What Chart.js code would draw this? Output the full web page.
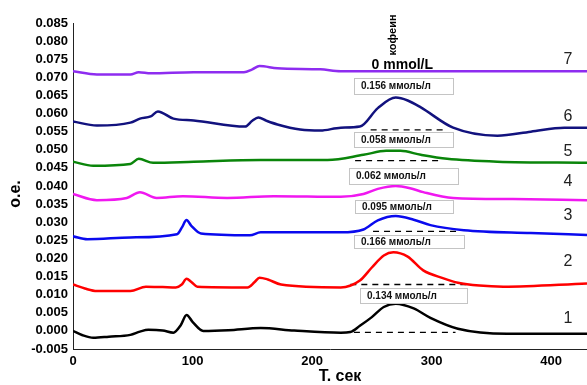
<!DOCTYPE html>
<html>
<head>
<meta charset="utf-8">
<script src="https://cdn.jsdelivr.net/npm/chart.js@4"></script>
<style>
  html, body { margin: 0; padding: 0; background: #fff; }
</style>
</head>
<body>
<canvas id="chart" width="587" height="385"></canvas>
<script>
// time, s / optical density for each trace (1 = bottom ... 7 = top)
const t1 = [0, 8, 17, 30, 48, 56, 63, 75, 84, 90, 95, 100, 109, 130, 157, 185, 224, 232, 240, 250, 260, 270, 285, 299, 322, 363, 430];
const od1 = [0, -0.0012, -0.0019, -0.0016, -0.0011, -0.0002, 0.0003, 0.0001, -0.0005, 0.0015, 0.0044, 0.0025, 0.0, 0.0002, 0.0008, 0.0001, -0.0005, -0.0003, 0.0014, 0.0038, 0.0066, 0.0075, 0.0062, 0.0036, 0.0006, -0.0008, -0.0008];

const t2 = [0, 10, 20, 48, 61, 75, 86, 91, 95, 99, 104, 146, 152, 156, 163, 174, 224, 240, 250, 260, 268, 280, 293, 310, 322, 340, 360, 430];
const od2 = [0.0128, 0.0117, 0.011, 0.011, 0.0122, 0.0121, 0.012, 0.0128, 0.0144, 0.0135, 0.0122, 0.012, 0.0135, 0.0147, 0.0142, 0.0128, 0.012, 0.0139, 0.0175, 0.0208, 0.0217, 0.0205, 0.0167, 0.0145, 0.0133, 0.0125, 0.0122, 0.0131];

const t3 = [0, 12, 48, 87, 91, 95, 99, 107, 148, 157, 224, 243, 255, 270, 285, 299, 327, 383, 430];
const od3 = [0.0261, 0.0253, 0.0258, 0.0267, 0.0285, 0.0306, 0.029, 0.0269, 0.0264, 0.0272, 0.0272, 0.028, 0.0305, 0.0317, 0.0307, 0.0292, 0.0278, 0.027, 0.0265];

const t4 = [0, 20, 45, 56, 70, 92, 129, 168, 224, 243, 255, 270, 282, 293, 318, 368, 430];
const od4 = [0.0378, 0.0361, 0.0367, 0.0383, 0.0367, 0.0372, 0.0367, 0.0372, 0.037, 0.0378, 0.0392, 0.040, 0.0394, 0.0383, 0.0367, 0.0364, 0.0361];

const t5 = [0, 17, 48, 55, 67, 101, 157, 213, 243, 262, 274, 291, 313, 355, 430];
const od5 = [0.0467, 0.0456, 0.0461, 0.0475, 0.0464, 0.0467, 0.0472, 0.0472, 0.0486, 0.0497, 0.0497, 0.0486, 0.0475, 0.0467, 0.0464];

const t6 = [0, 20, 48, 56, 65, 71, 84, 101, 144, 150, 155, 162, 171, 190, 207, 224, 240, 255, 270, 280, 291, 318, 355, 383, 411, 430];
const od6 = [0.0578, 0.0567, 0.0575, 0.0586, 0.0592, 0.0606, 0.0586, 0.0581, 0.0564, 0.058, 0.0589, 0.058, 0.057, 0.0556, 0.0553, 0.0561, 0.0564, 0.0615, 0.0644, 0.0636, 0.0617, 0.0561, 0.0539, 0.055, 0.0561, 0.0561];

const t7 = [0, 20, 48, 55, 65, 101, 143, 150, 156, 171, 207, 224, 300, 430];
const od7 = [0.0717, 0.0708, 0.0708, 0.0714, 0.0711, 0.0714, 0.0714, 0.0722, 0.0731, 0.0725, 0.0722, 0.0717, 0.0717, 0.0717];

// dashed peak baselines (traces 1, 2, 3, 5, 6)
const baseFrom = [235, 232, 251, 236, 249];
const baseTo = [320, 330, 322, 309, 310];
const baseLevel = [-0.0004, 0.0128, 0.0275, 0.047, 0.0555];

const concLabels = ['0.134 ммоль/л', '0.166 ммоль/л', '0.095 ммоль/л', '0.062 ммоль/л', '0.058 ммоль/л', '0.156 ммоль/л'];
const traceNames = ['1', '2', '3', '4', '5', '6', '7'];

const times = [t1, t2, t3, t4, t5, t6, t7];
const values = [od1, od2, od3, od4, od5, od6, od7];
const colors = ['#000000', '#ff0000', '#0a0aee', '#f018f0', '#0a850a', '#12127e', '#8e2cf0'];

const datasets = values.map((vals, i) => ({
    data: vals.map((v, k) => ({ x: times[i][k], y: v })),
    borderColor: colors[i],
    borderWidth: 2.5,
    pointRadius: 0,
    fill: false,
    cubicInterpolationMode: 'monotone'
}));

baseLevel.forEach((lvl, i) => {
    datasets.push({
        data: [{ x: baseFrom[i], y: lvl }, { x: baseTo[i], y: lvl }],
        borderColor: '#000',
        borderWidth: 1.3,
        borderDash: [6, 5],
        pointRadius: 0,
        fill: false
    });
});

const textPlugin = {
    id: 'textLabels',
    afterDatasetsDraw(chart, args, opts) {
        const { ctx, scales: { x, y } } = chart;
        ctx.save();

        // concentration boxes
        opts.boxes.forEach((b, i) => {
            const l = Math.round(x.getPixelForValue(b.x0));
            const r = Math.round(x.getPixelForValue(b.x1));
            const t = Math.round(y.getPixelForValue(b.y0));
            const btm = Math.round(y.getPixelForValue(b.y1));
            ctx.fillStyle = '#fff';
            ctx.fillRect(l, t, r - l, btm - t);
            ctx.strokeStyle = '#c4c4c4';
            ctx.lineWidth = 1;
            ctx.strokeRect(l + 0.5, t + 0.5, r - l, btm - t);
            ctx.fillStyle = '#111';
            ctx.font = 'bold 10px "Liberation Sans", Arial, sans-serif';
            ctx.textAlign = 'left';
            ctx.textBaseline = 'middle';
            ctx.fillText(concLabels[i], l + 7, (t + btm) / 2 + 0.5);
        });

        // trace numbers
        ctx.font = '16px "Liberation Sans", Arial, sans-serif';
        ctx.fillStyle = '#222';
        ctx.textAlign = 'center';
        ctx.textBaseline = 'middle';
        opts.numberY.forEach((v, i) => {
            ctx.fillText(traceNames[i], x.getPixelForValue(opts.numberX), y.getPixelForValue(v));
        });

        // 0 mmol/L and кофеин
        ctx.font = 'bold 14px "Liberation Sans", Arial, sans-serif';
        ctx.fillStyle = '#000';
        ctx.fillText('0 mmol/L', x.getPixelForValue(275.5), y.getPixelForValue(0.0733));
        ctx.save();
        ctx.translate(x.getPixelForValue(268), 35);
        ctx.rotate(-Math.PI / 2);
        ctx.font = 'bold 11px "Liberation Sans", Arial, sans-serif';
        ctx.fillText('кофеин', 0, 0);
        ctx.restore();

        // axis titles
        ctx.font = 'bold 16px "Liberation Sans", Arial, sans-serif';
        ctx.fillText('Т. сек', 340, 377);
        ctx.translate(16, 194);
        ctx.rotate(-Math.PI / 2);
        ctx.fillText('o.e.', 0, 0);
        ctx.restore();
    }
};

const tickFont = { family: '"Liberation Sans", Arial, sans-serif', size: 13, weight: 'bold' };

new Chart(document.getElementById('chart'), {
    type: 'line',
    data: { datasets },
    plugins: [textPlugin],
    options: {
        responsive: false,
        animation: false,
        layout: { padding: { top: 23, right: 0, left: 0, bottom: 0 } },
        plugins: {
            legend: { display: false },
            tooltip: { enabled: false },
            textLabels: {
                boxes: [
                    { x0: 240, x1: 330, y0: 0.0119, y1: 0.0078 },
                    { x0: 235, x1: 327, y0: 0.0264, y1: 0.0228 },
                    { x0: 236, x1: 318, y0: 0.0361, y1: 0.0325 },
                    { x0: 231, x1: 322, y0: 0.0450, y1: 0.0406 },
                    { x0: 235, x1: 318, y0: 0.0550, y1: 0.0508 },
                    { x0: 235, x1: 318, y0: 0.0697, y1: 0.0653 }
                ],
                numberX: 414,
                numberY: [0.0033, 0.0192, 0.0317, 0.0411, 0.0494, 0.0592, 0.0750]
            }
        },
        scales: {
            x: {
                type: 'linear',
                min: 0,
                max: 430,
                grid: { display: false, drawTicks: false },
                border: { display: true, color: '#222', width: 1 },
                ticks: { stepSize: 100, font: tickFont, color: '#000', padding: 5, autoSkip: false, maxRotation: 0 },
                afterBuildTicks(scale) {
                    scale.ticks = scale.ticks.filter(t => Math.abs(t.value % 100) < 1e-6);
                },
                afterFit(scale) { scale.height = 36; }
            },
            y: {
                min: -0.005,
                max: 0.085,
                grid: { display: false, drawTicks: false },
                border: { display: true, color: '#222', width: 1 },
                ticks: {
                    stepSize: 0.005,
                    autoSkip: false,
                    font: tickFont,
                    color: '#000',
                    padding: 5,
                    callback: v => v.toFixed(3)
                },
                afterFit(scale) { scale.width = 73; }
            }
        }
    }
});
</script>
</body>
</html>
